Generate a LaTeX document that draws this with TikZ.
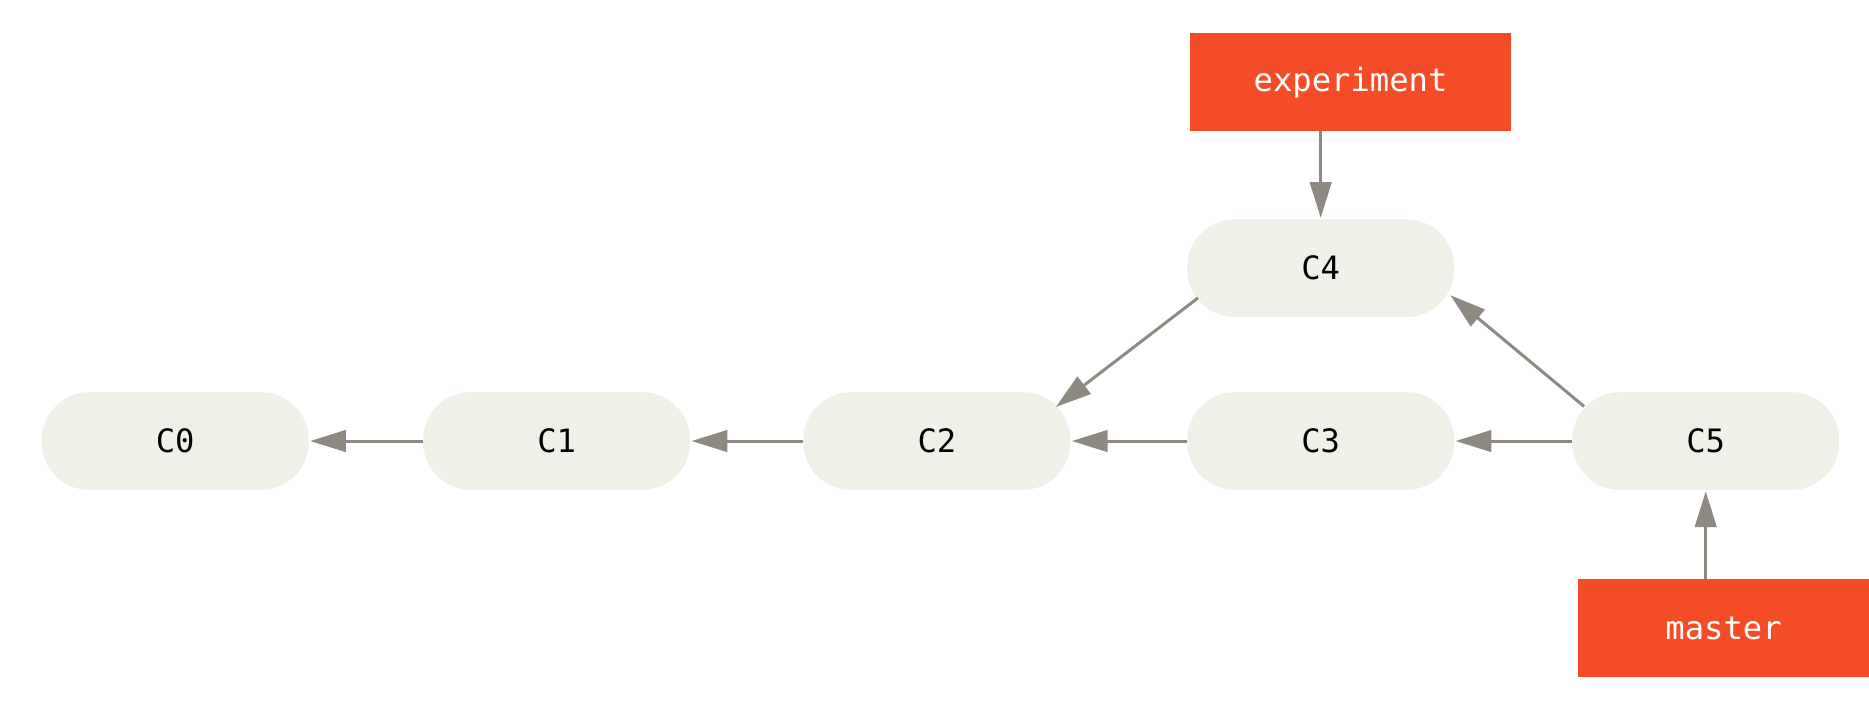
\documentclass[tikz,border=0pt]{standalone}
\usepackage{fontspec}
\setmonofont{DejaVu Sans Mono}
\usetikzlibrary{arrows.meta}
\definecolor{cfill}{HTML}{F0EFE8}
\definecolor{bred}{HTML}{F34C27}
\definecolor{agray}{HTML}{8E8A82}
\tikzset{
 commit/.style={fill=cfill, rounded corners=40pt, minimum width=224pt, minimum height=82pt, inner sep=0pt, font=\fontsize{27}{30}\selectfont\ttfamily},
 branch/.style={fill=bred, minimum width=269pt, minimum height=82pt, inner sep=0pt, text=white, font=\fontsize{27}{30}\selectfont\ttfamily},
 arr/.style={draw=agray, line width=2.5pt, -{Triangle[length=30pt,width=18pt]}, shorten >=1pt}
}
\begin{document}
\begin{tikzpicture}[x=1pt,y=-1pt]
\useasboundingbox (0,0) rectangle (1568,596);
\node[commit] (c0) at (147,370) {C0};
\node[commit] (c1) at (467,370) {C1};
\node[commit] (c2) at (786,370) {C2};
\node[commit] (c3) at (1108,370) {C3};
\node[commit] (c5) at (1431,370) {C5};
\node[commit] (c4) at (1108,225) {C4};
\node[branch] (exp) at (1133,69) {experiment};
\node[branch, minimum width=244pt] (mas) at (1446,527) {master};
\draw[arr] (c1.west) -- (c0.east);
\draw[arr] (c2.west) -- (c1.east);
\draw[arr] (c3.west) -- (c2.east);
\draw[arr] (c5.west) -- (c3.east);
\coordinate (a1) at (1329,341); \coordinate (a2) at (1216,247);
\draw[arr] (a1) -- (a2);
\coordinate (b1) at (1005,250); \coordinate (b2) at (885,342);
\draw[arr] (b1) -- (b2);
\draw[arr] (exp.south -| c4.north) -- (c4.north);
\draw[arr] (mas.north -| c5.south) -- (c5.south);
\end{tikzpicture}
\end{document}
